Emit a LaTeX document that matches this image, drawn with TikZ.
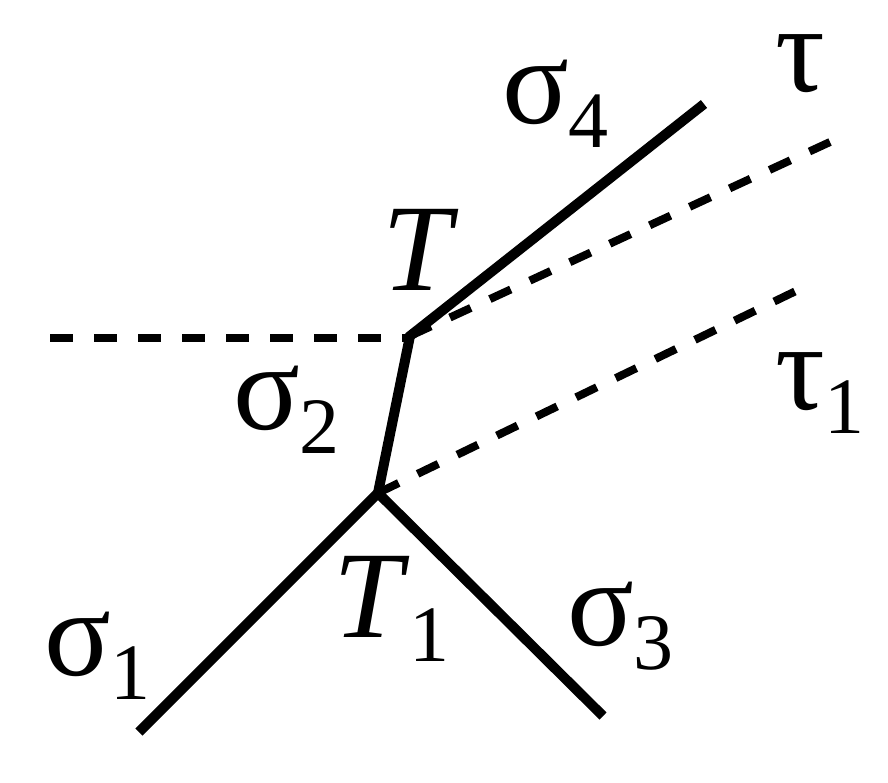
\documentclass[tikz,border=0pt]{standalone}
\usepackage{fontspec}
\setmainfont{Liberation Serif}
\newcommand{\lbl}[2]{{\fontsize{62}{62}\selectfont #1}\raisebox{-12pt}{\fontsize{40}{40}\selectfont #2}}
\tikzset{
  solidline/.style={line width=5pt, line cap=butt, line join=miter},
  dashline/.style={line width=4pt, dash pattern=on 11.5pt off 10.5pt},
  lab/.style={anchor=base west, inner sep=0pt, outer sep=0pt}
}
\begin{document}
\begin{tikzpicture}[x=0.5pt,y=-0.5pt]
\useasboundingbox (0,0) rectangle (888,782);
\coordinate (T) at (410,336);
\coordinate (T1) at (378,493);
\coordinate (s4) at (704,104);
\coordinate (s1) at (139,732);
\coordinate (s3) at (603,716);
\coordinate (tau) at (830,142);
\coordinate (tau1) at (798,290);
\coordinate (h) at (50,338);
% dashed
\draw[dashline] (h) -- (T |- h);
\draw[dashline] (T) -- (tau);
\draw[dashline] (T1) -- (tau1);
% solid
\draw[solidline] (T1) -- (T) -- (s4);
\draw[solidline] (s1) -- (T1) -- (s3);
% labels
\node[lab] (lt) at (382,290) {\fontsize{62}{62}\selectfont\textit{T}};
\node[lab] (lt1) at (333,637) {\lbl{\textit{T}}{1}};
\node[lab] (ls4) at (502,123) {\lbl{σ}{4}};
\node[lab] (ls2) at (233,429) {\lbl{σ}{2}};
\node[lab] (ls1) at (44,675) {\lbl{σ}{1}};
\node[lab] (ls3) at (567,645) {\lbl{σ}{3}};
\node[lab] (ltau) at (775,91) {\fontsize{62}{62}\selectfont τ};
\node[lab] (ltau1) at (775,409) {\lbl{τ}{1}};
\end{tikzpicture}
\end{document}
